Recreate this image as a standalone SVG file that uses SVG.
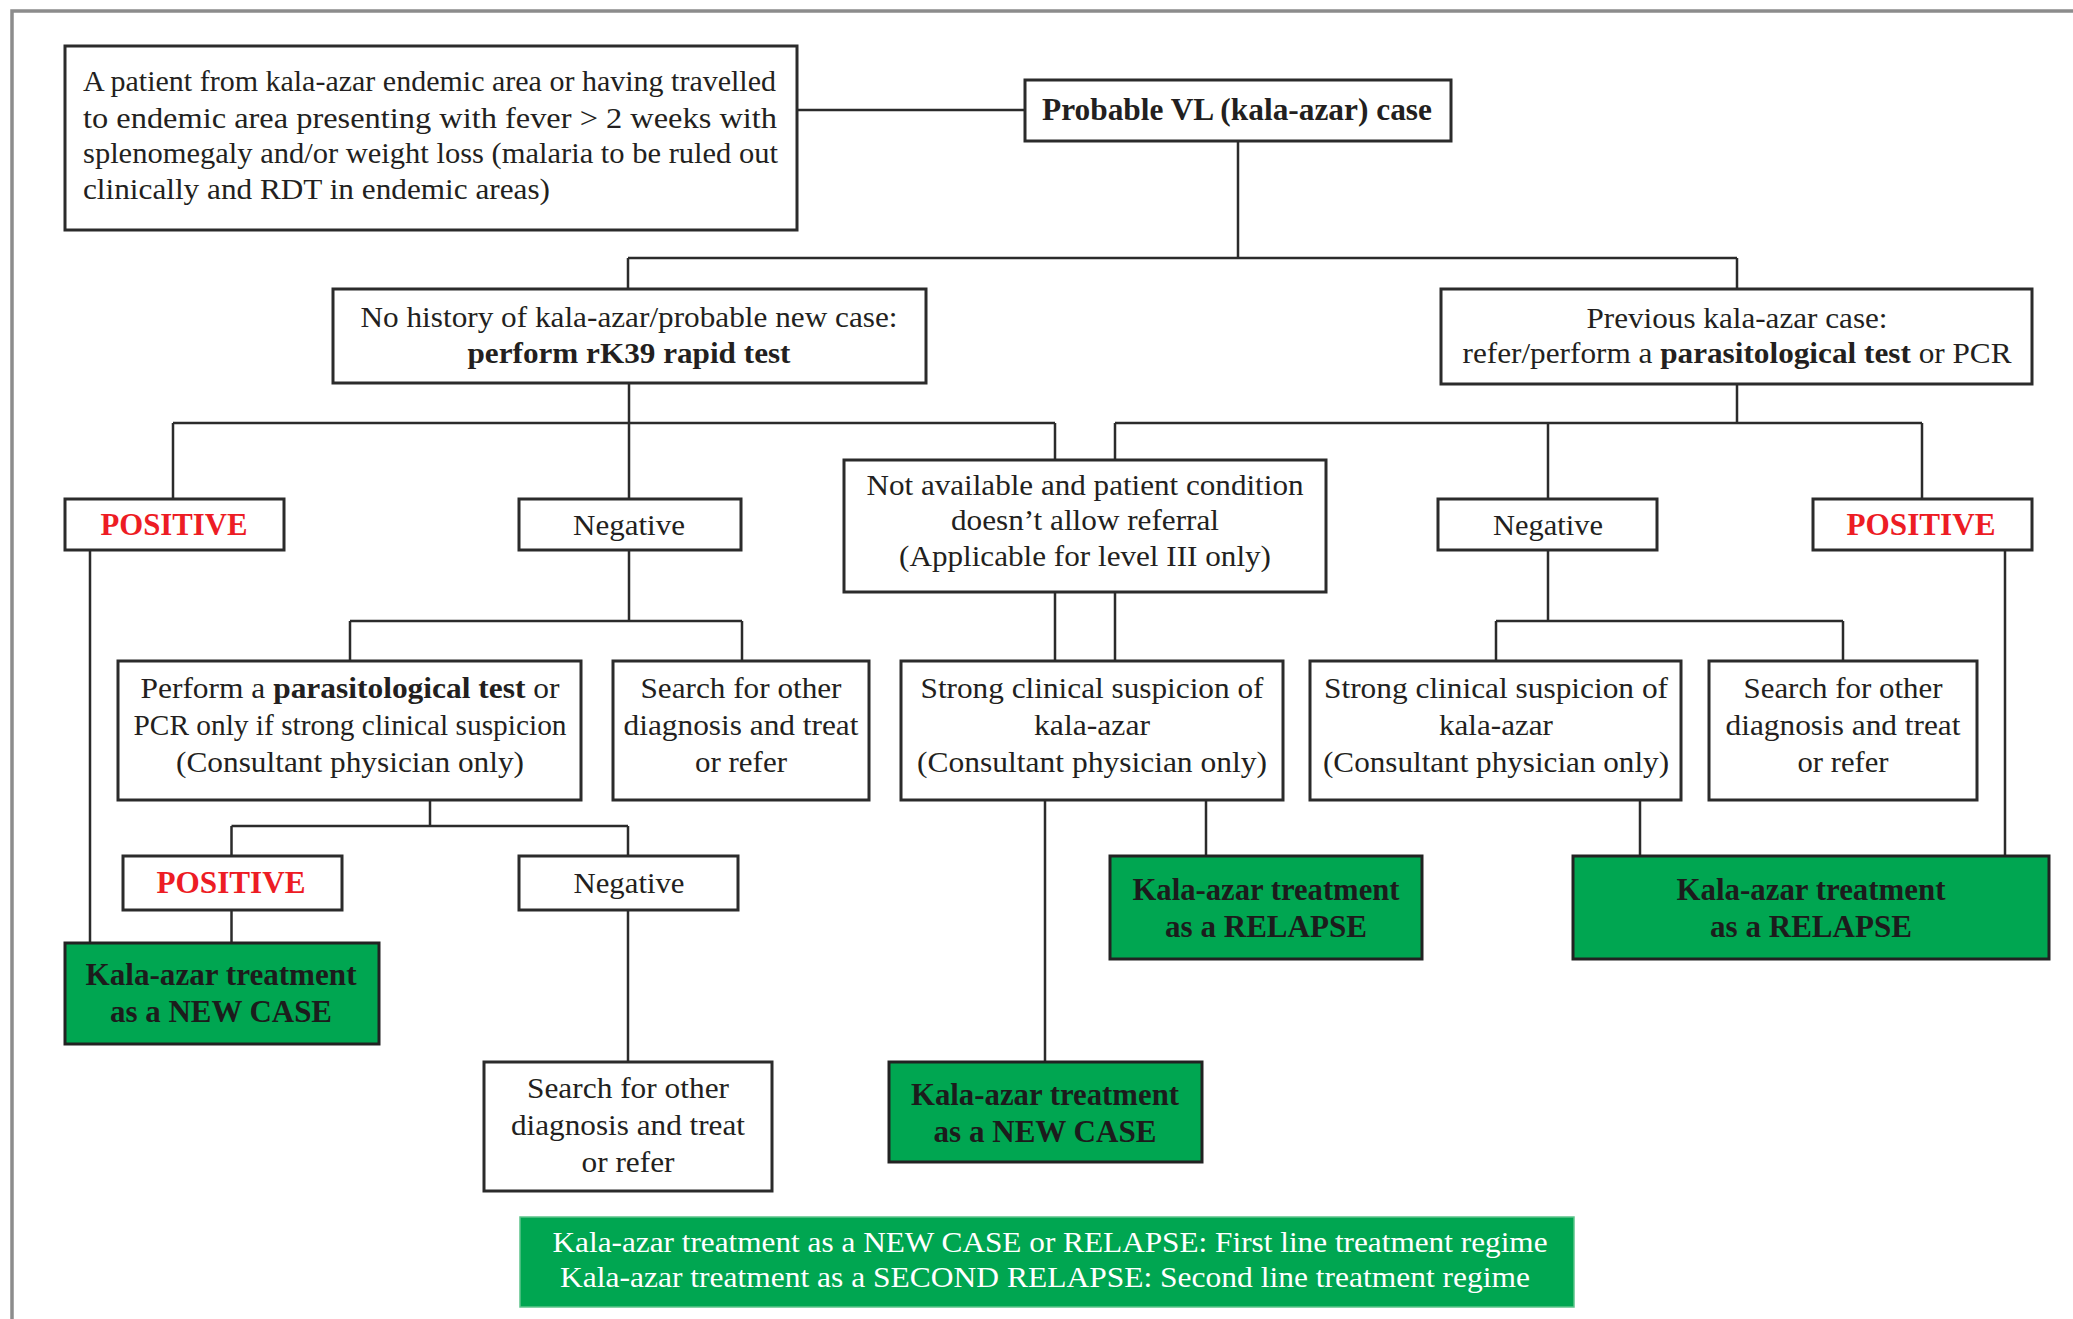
<svg xmlns="http://www.w3.org/2000/svg" width="2073" height="1319" viewBox="0 0 2073 1319">
<style>
.bg{fill:#fff}
.frame{stroke:#8c8c8c;stroke-width:3.5;fill:none}
.box{fill:#fff;stroke:#2b2b2b;stroke-width:3}
.gbox{fill:#00a651;stroke:#222;stroke-width:3}
.leg{fill:#00a651;stroke:#5cc48a;stroke-width:1.5}
.conn path{stroke:#2b2b2b;stroke-width:2.5;fill:none}
text{font-family:"Liberation Serif","Times New Roman",serif;font-size:30px;fill:#231f20;text-anchor:middle}
.a{font-size:29px;text-anchor:start}
.b{font-weight:bold}
.pv{font-weight:bold;font-size:31px}
.pos{font-weight:bold;font-size:31px;fill:#ed1c24}
.g{font-weight:bold;font-size:31px;fill:#1c1c1c}
.w{font-size:29px;fill:#fff}
</style>
<rect class="bg" x="0" y="0" width="2073" height="1319"/>
<path class="frame" d="M12 1319 V11 H2073"/>

<g class="conn">
<path d="M797 110 H1025"/>
<path d="M1238 141 V258 M628 258 H1737 M628 258 V289 M1737 258 V289"/>
<path d="M629 383 V423 M173 423 H1055 M173 423 V499 M629 423 V499 M1055 423 V460"/>
<path d="M1737 384 V423 M1115 423 H1922 M1115 423 V460 M1548 423 V499 M1922 423 V499"/>
<path d="M1055 592 V661 M1115 592 V661"/>
<path d="M629 550 V621 M350 621 H742 M350 621 V661 M742 621 V661"/>
<path d="M1548 550 V621 M1496 621 H1843 M1496 621 V661 M1843 621 V661"/>
<path d="M90 550 V943"/>
<path d="M2005 550 V856"/>
<path d="M430 800 V826 M231.5 826 H628 M231.5 826 V856 M628 826 V856"/>
<path d="M231.5 910 V943"/>
<path d="M628 910 V1062"/>
<path d="M1045 800 V1062 M1206 800 V856"/>
<path d="M1640 800 V856"/>
</g>

<g id="patient">
<rect class="box" x="65" y="46" width="732" height="184"/>
<text class="a" x="83" y="91" textLength="693" lengthAdjust="spacingAndGlyphs">A patient from kala-azar endemic area or having travelled</text>
<text class="a" x="83" y="127.5" textLength="694" lengthAdjust="spacingAndGlyphs">to endemic area presenting with fever &gt; 2 weeks with</text>
<text class="a" x="83" y="163" textLength="695" lengthAdjust="spacingAndGlyphs">splenomegaly and/or weight loss (malaria to be ruled out</text>
<text class="a" x="83" y="198.5" textLength="467" lengthAdjust="spacingAndGlyphs">clinically and RDT in endemic areas)</text>
</g>

<g id="probable">
<rect class="box" x="1025" y="80" width="426" height="61"/>
<text class="pv" x="1237" y="120" textLength="390" lengthAdjust="spacingAndGlyphs">Probable VL (kala-azar) case</text>
</g>

<g id="nohistory">
<rect class="box" x="333" y="289" width="593" height="94"/>
<text x="629" y="327" textLength="537" lengthAdjust="spacingAndGlyphs">No history of kala-azar/probable new case:</text>
<text class="b" x="629" y="363" textLength="323" lengthAdjust="spacingAndGlyphs">perform rK39 rapid test</text>
</g>

<g id="previous">
<rect class="box" x="1441" y="289" width="591" height="95"/>
<text x="1737" y="328" textLength="301" lengthAdjust="spacingAndGlyphs">Previous kala-azar case:</text>
<text x="1737" y="363" textLength="549" lengthAdjust="spacingAndGlyphs">refer/perform a <tspan class="b">parasitological test</tspan> or PCR</text>
</g>

<g id="notavailable">
<rect class="box" x="844" y="460" width="482" height="132"/>
<text x="1085" y="495" textLength="437" lengthAdjust="spacingAndGlyphs">Not available and patient condition</text>
<text x="1085" y="530" textLength="268" lengthAdjust="spacingAndGlyphs">doesn’t allow referral</text>
<text x="1085" y="566" textLength="372" lengthAdjust="spacingAndGlyphs">(Applicable for level III only)</text>
</g>

<g id="pos1">
<rect class="box" x="65" y="499" width="219" height="51"/>
<text class="pos" x="174" y="535" textLength="147" lengthAdjust="spacingAndGlyphs">POSITIVE</text>
</g>

<g id="neg1">
<rect class="box" x="519" y="499" width="222" height="51"/>
<text x="629" y="535" textLength="112" lengthAdjust="spacingAndGlyphs">Negative</text>
</g>

<g id="neg2">
<rect class="box" x="1438" y="499" width="219" height="51"/>
<text x="1548" y="535" textLength="110" lengthAdjust="spacingAndGlyphs">Negative</text>
</g>

<g id="pos2">
<rect class="box" x="1813" y="499" width="219" height="51"/>
<text class="pos" x="1921" y="535" textLength="149" lengthAdjust="spacingAndGlyphs">POSITIVE</text>
</g>

<g id="perform">
<rect class="box" x="118" y="661" width="463" height="139"/>
<text x="350" y="698" textLength="419" lengthAdjust="spacingAndGlyphs">Perform a <tspan class="b">parasitological test</tspan> or</text>
<text x="350" y="735" textLength="433" lengthAdjust="spacingAndGlyphs">PCR only if strong clinical suspicion</text>
<text x="350" y="772" textLength="348" lengthAdjust="spacingAndGlyphs">(Consultant physician only)</text>
</g>

<g id="search1">
<rect class="box" x="613" y="661" width="256" height="139"/>
<text x="741" y="698" textLength="201" lengthAdjust="spacingAndGlyphs">Search for other</text>
<text x="741" y="735" textLength="235" lengthAdjust="spacingAndGlyphs">diagnosis and treat</text>
<text x="741" y="772" textLength="92" lengthAdjust="spacingAndGlyphs">or refer</text>
</g>

<g id="strong1">
<rect class="box" x="901" y="661" width="382" height="139"/>
<text x="1092" y="698" textLength="343" lengthAdjust="spacingAndGlyphs">Strong clinical suspicion of</text>
<text x="1092" y="735" textLength="116" lengthAdjust="spacingAndGlyphs">kala-azar</text>
<text x="1092" y="772" textLength="350" lengthAdjust="spacingAndGlyphs">(Consultant physician only)</text>
</g>

<g id="strong2">
<rect class="box" x="1310" y="661" width="371" height="139"/>
<text x="1496" y="698" textLength="344" lengthAdjust="spacingAndGlyphs">Strong clinical suspicion of</text>
<text x="1496" y="735" textLength="114" lengthAdjust="spacingAndGlyphs">kala-azar</text>
<text x="1496" y="772" textLength="346" lengthAdjust="spacingAndGlyphs">(Consultant physician only)</text>
</g>

<g id="search2">
<rect class="box" x="1709" y="661" width="268" height="139"/>
<text x="1843" y="698" textLength="199" lengthAdjust="spacingAndGlyphs">Search for other</text>
<text x="1843" y="735" textLength="235" lengthAdjust="spacingAndGlyphs">diagnosis and treat</text>
<text x="1843" y="772" textLength="91" lengthAdjust="spacingAndGlyphs">or refer</text>
</g>

<g id="pos3">
<rect class="box" x="123" y="856" width="219" height="54"/>
<text class="pos" x="231" y="893" textLength="149" lengthAdjust="spacingAndGlyphs">POSITIVE</text>
</g>

<g id="neg3">
<rect class="box" x="519" y="856" width="219" height="54"/>
<text x="629" y="893" textLength="111" lengthAdjust="spacingAndGlyphs">Negative</text>
</g>

<g id="new1">
<rect class="gbox" x="65" y="943" width="314" height="101"/>
<text class="g" x="221" y="985" textLength="271" lengthAdjust="spacingAndGlyphs">Kala-azar treatment</text>
<text class="g" x="221" y="1022" textLength="222" lengthAdjust="spacingAndGlyphs">as a NEW CASE</text>
</g>

<g id="search3">
<rect class="box" x="484" y="1062" width="288" height="129"/>
<text x="628" y="1098" textLength="202" lengthAdjust="spacingAndGlyphs">Search for other</text>
<text x="628" y="1135" textLength="234" lengthAdjust="spacingAndGlyphs">diagnosis and treat</text>
<text x="628" y="1172" textLength="93" lengthAdjust="spacingAndGlyphs">or refer</text>
</g>

<g id="new2">
<rect class="gbox" x="889" y="1062" width="313" height="100"/>
<text class="g" x="1045" y="1105" textLength="268" lengthAdjust="spacingAndGlyphs">Kala-azar treatment</text>
<text class="g" x="1045" y="1142" textLength="223" lengthAdjust="spacingAndGlyphs">as a NEW CASE</text>
</g>

<g id="relapse1">
<rect class="gbox" x="1110" y="856" width="312" height="103"/>
<text class="g" x="1266" y="900" textLength="267" lengthAdjust="spacingAndGlyphs">Kala-azar treatment</text>
<text class="g" x="1266" y="936.5" textLength="202" lengthAdjust="spacingAndGlyphs">as a RELAPSE</text>
</g>

<g id="relapse2">
<rect class="gbox" x="1573" y="856" width="476" height="103"/>
<text class="g" x="1811" y="900" textLength="269" lengthAdjust="spacingAndGlyphs">Kala-azar treatment</text>
<text class="g" x="1811" y="936.5" textLength="202" lengthAdjust="spacingAndGlyphs">as a RELAPSE</text>
</g>

<g id="legend">
<rect class="leg" x="520" y="1217" width="1054" height="90"/>
<text class="w" x="1050" y="1251.5" textLength="995" lengthAdjust="spacingAndGlyphs">Kala-azar treatment as a NEW CASE or RELAPSE: First line treatment regime</text>
<text class="w" x="1045" y="1287" textLength="970" lengthAdjust="spacingAndGlyphs">Kala-azar treatment as a SECOND RELAPSE: Second line treatment regime</text>
</g>
</svg>
